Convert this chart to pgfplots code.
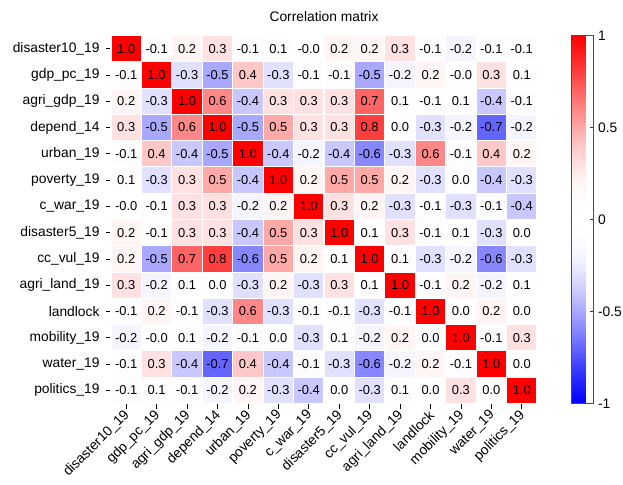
\documentclass[border=0pt]{standalone}
\usepackage{pgfplots}
\usepackage{pgfplotstable}
\pgfplotsset{compat=1.18}
\usepackage{fontspec}
\setmainfont{Liberation Sans}

\pgfdeclareplotmark{cell}{%
  \pgfpathrectangle{\pgfqpoint{-15.21pt}{-13.14pt}}{\pgfqpoint{30.43pt}{26.29pt}}%
  \pgfusepathqfillstroke}

\pgfplotstableread{
x y c
0 0 1.0
1 0 -0.1
2 0 0.2
3 0 0.3
4 0 -0.1
5 0 0.1
6 0 -0.0
7 0 0.2
8 0 0.2
9 0 0.3
10 0 -0.1
11 0 -0.2
12 0 -0.1
13 0 -0.1
0 1 -0.1
1 1 1.0
2 1 -0.3
3 1 -0.5
4 1 0.4
5 1 -0.3
6 1 -0.1
7 1 -0.1
8 1 -0.5
9 1 -0.2
10 1 0.2
11 1 -0.0
12 1 0.3
13 1 0.1
0 2 0.2
1 2 -0.3
2 2 1.0
3 2 0.6
4 2 -0.4
5 2 0.3
6 2 0.3
7 2 0.3
8 2 0.7
9 2 0.1
10 2 -0.1
11 2 0.1
12 2 -0.4
13 2 -0.1
0 3 0.3
1 3 -0.5
2 3 0.6
3 3 1.0
4 3 -0.5
5 3 0.5
6 3 0.3
7 3 0.3
8 3 0.8
9 3 0.0
10 3 -0.3
11 3 -0.2
12 3 -0.7
13 3 -0.2
0 4 -0.1
1 4 0.4
2 4 -0.4
3 4 -0.5
4 4 1.0
5 4 -0.4
6 4 -0.2
7 4 -0.4
8 4 -0.6
9 4 -0.3
10 4 0.6
11 4 -0.1
12 4 0.4
13 4 0.2
0 5 0.1
1 5 -0.3
2 5 0.3
3 5 0.5
4 5 -0.4
5 5 1.0
6 5 0.2
7 5 0.5
8 5 0.5
9 5 0.2
10 5 -0.3
11 5 0.0
12 5 -0.4
13 5 -0.3
0 6 -0.0
1 6 -0.1
2 6 0.3
3 6 0.3
4 6 -0.2
5 6 0.2
6 6 1.0
7 6 0.3
8 6 0.2
9 6 -0.3
10 6 -0.1
11 6 -0.3
12 6 -0.1
13 6 -0.4
0 7 0.2
1 7 -0.1
2 7 0.3
3 7 0.3
4 7 -0.4
5 7 0.5
6 7 0.3
7 7 1.0
8 7 0.1
9 7 0.3
10 7 -0.1
11 7 0.1
12 7 -0.3
13 7 0.0
0 8 0.2
1 8 -0.5
2 8 0.7
3 8 0.8
4 8 -0.6
5 8 0.5
6 8 0.2
7 8 0.1
8 8 1.0
9 8 0.1
10 8 -0.3
11 8 -0.2
12 8 -0.6
13 8 -0.3
0 9 0.3
1 9 -0.2
2 9 0.1
3 9 0.0
4 9 -0.3
5 9 0.2
6 9 -0.3
7 9 0.3
8 9 0.1
9 9 1.0
10 9 -0.1
11 9 0.2
12 9 -0.2
13 9 0.1
0 10 -0.1
1 10 0.2
2 10 -0.1
3 10 -0.3
4 10 0.6
5 10 -0.3
6 10 -0.1
7 10 -0.1
8 10 -0.3
9 10 -0.1
10 10 1.0
11 10 0.0
12 10 0.2
13 10 0.0
0 11 -0.2
1 11 -0.0
2 11 0.1
3 11 -0.2
4 11 -0.1
5 11 0.0
6 11 -0.3
7 11 0.1
8 11 -0.2
9 11 0.2
10 11 0.0
11 11 1.0
12 11 -0.1
13 11 0.3
0 12 -0.1
1 12 0.3
2 12 -0.4
3 12 -0.7
4 12 0.4
5 12 -0.4
6 12 -0.1
7 12 -0.3
8 12 -0.6
9 12 -0.2
10 12 0.2
11 12 -0.1
12 12 1.0
13 12 0.0
0 13 -0.1
1 13 0.1
2 13 -0.1
3 13 -0.2
4 13 0.2
5 13 -0.3
6 13 -0.4
7 13 0.0
8 13 -0.3
9 13 0.1
10 13 0.0
11 13 0.3
12 13 0.0
13 13 1.0
}\corr

\begin{document}
\begin{tikzpicture}
\useasboundingbox (0,0) rectangle (623pt,484pt);
\begin{axis}[
  at={(111pt,80.5pt)}, anchor=south west,
  scale only axis, width=426pt, height=368pt,
  xmin=-0.5, xmax=13.5, ymin=-0.5, ymax=13.5,
  y dir=reverse,
  axis on top,
  axis line style={black, line width=0.6pt},
  tick style={black, line width=0.6pt},
  tick pos=left, tick align=outside, major tick length=5pt,
  xtick={0,...,13}, ytick={0,...,13},
  xticklabels={disaster10\_19,gdp\_pc\_19,agri\_gdp\_19,depend\_14,urban\_19,poverty\_19,c\_war\_19,disaster5\_19,cc\_vul\_19,agri\_land\_19,landlock,mobility\_19,water\_19,politics\_19},
  yticklabels={disaster10\_19,gdp\_pc\_19,agri\_gdp\_19,depend\_14,urban\_19,poverty\_19,c\_war\_19,disaster5\_19,cc\_vul\_19,agri\_land\_19,landlock,mobility\_19,water\_19,politics\_19},
  ticklabel style={font=\fontsize{13.8}{16}\selectfont},
  xticklabel style={rotate=45, anchor=east, yshift=-4pt, xshift=1pt},
  yticklabel style={xshift=-3pt},
  /pgf/number format/assume math mode=true,
  title={Correlation matrix},
  title style={at={(0.5,1)}, anchor=south, yshift=4.2pt, font=\fontsize{13.8}{16}\selectfont},
  point meta min=-1, point meta max=1,
  colormap={bwrnl}{
    rgb255=(0,0,255); rgb255=(30,30,255); rgb255=(62,62,255); rgb255=(100,100,255);
    rgb255=(135,135,255); rgb255=(168,168,255); rgb255=(200,200,255); rgb255=(225,225,255);
    rgb255=(245,245,255); rgb255=(253,253,255); rgb255=(255,255,255);
    rgb255=(255,253,253); rgb255=(255,245,245); rgb255=(255,225,225); rgb255=(255,200,200);
    rgb255=(255,168,168); rgb255=(255,135,135); rgb255=(255,100,100); rgb255=(255,62,62);
    rgb255=(255,30,30); rgb255=(255,0,0)},
  colorbar,
  colorbar style={
    at={(parent axis.north east)}, anchor=north west, xshift=26pt,
    scale only axis, width=22pt, height=368pt,
    ytick={-1,-0.5,0,0.5,1},
    yticklabels={-1,-0.5,0,0.5,1},
    yticklabel pos=right, ytick pos=right,
    tick align=inside, major tick length=4pt,
    tick style={black!80, line width=0.6pt},
    axis line style={black!70, line width=0.6pt},
    yticklabel style={font=\fontsize{13.8}{16}\selectfont, xshift=1pt},
  },
]
\addplot[scatter, only marks, mark=cell, scatter src=explicit,
  scatter/use mapped color={draw=white, fill=mapped color},
  line width=1.1pt]
  table[x=x, y=y, meta=c] {\corr};
\addplot[only marks, mark=none, point meta=explicit symbolic,
  nodes near coords,
  nodes near coords style={anchor=center, text=black, inner sep=0pt,
    font=\fontsize{12.9}{14}\selectfont}]
  table[x=x, y=y, meta=c] {\corr};
\end{axis}
\end{tikzpicture}
\end{document}
